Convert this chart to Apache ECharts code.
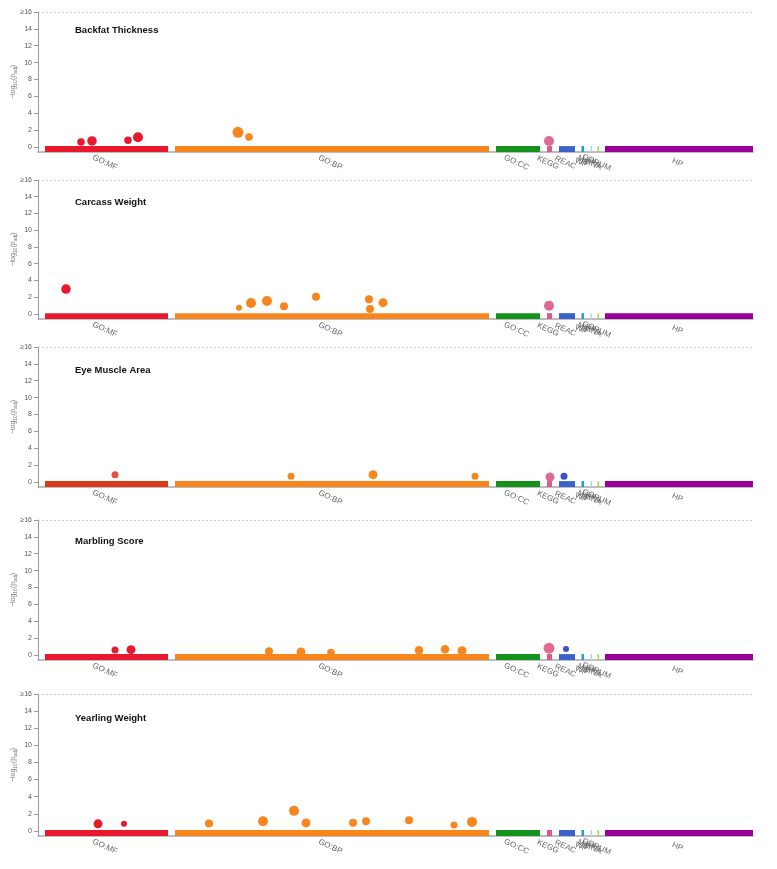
<!DOCTYPE html>
<html>
<head>
<meta charset="utf-8">
<script src="https://cdn.jsdelivr.net/npm/echarts@6/dist/echarts.min.js"></script>
<style>
html,body{margin:0;padding:0;background:#fff;}
#chart{width:777px;height:869px;}
</style>
</head>
<body>
<div id="chart"></div>
<script>
// ---- data ----
const panelTitles = ['Backfat Thickness', 'Carcass Weight', 'Eye Muscle Area', 'Marbling Score', 'Yearling Weight'];
const sourceNames = ['GO:MF', 'GO:BP', 'GO:CC', 'KEGG', 'REAC', 'WP', 'TF', 'MIRNA', 'HPA', 'CORUM', 'HP'];
const sourceStart = [7, 137, 458, 509, 521, 543.5, 548, 552.5, 556, 559.5, 567];
const sourceEnd   = [130, 451, 502, 514, 537, 546, 548, 554, 556, 561, 715];
const sourceLabelPos = [68.5, 294, 480, 511.5, 529, 544.8, 548, 553.2, 556.5, 560.2, 641];
const yTicks = [0, 2, 4, 6, 8, 10, 12, 14, 16];

// points: [position, -log10(p_adj), term size]
const backfatMF = [[43, 0.59, 7.5], [54, 0.71, 9.5], [90, 0.79, 7.5], [100, 1.15, 10]];
const backfatBP = [[200, 1.74, 11], [211, 1.18, 7.5]];
const backfatKEGG = [[511, 0.71, 10]];

const carcassMF = [[28, 2.98, 9.5]];
const carcassBP = [[201, 0.75, 6], [213, 1.31, 10], [229, 1.55, 10], [246, 0.92, 8], [278, 2.07, 8], [331, 1.75, 8], [332, 0.6, 8], [345, 1.35, 9]];
const carcassKEGG = [[511, 0.99, 10]];

const eyeMF = [[77, 0.86, 7]];
const eyeBP = [[253, 0.67, 7], [335, 0.86, 9], [437, 0.67, 7]];
const eyeKEGG = [[512, 0.59, 9]];
const eyeREAC = [[526, 0.67, 7]];

const marblingMF = [[77, 0.59, 7], [93, 0.63, 9]];
const marblingBP = [[231, 0.44, 8], [263, 0.36, 9], [293, 0.28, 7.5], [381, 0.55, 8.5], [407, 0.67, 8.5], [424, 0.51, 9]];
const marblingKEGG = [[511, 0.8, 11]];
const marblingREAC = [[528, 0.7, 6]];

const yearlingMF = [[60, 0.82, 9], [86, 0.82, 6]];
const yearlingBP = [[171, 0.85, 8], [225, 1.13, 10], [256, 2.34, 10], [268, 0.93, 9], [315, 0.96, 8], [328, 1.13, 8], [371, 1.25, 8], [416, 0.7, 7], [434, 1.05, 10]];

const panelPoints = [
  {MF: backfatMF, BP: backfatBP, KEGG: backfatKEGG, REAC: []},
  {MF: carcassMF, BP: carcassBP, KEGG: carcassKEGG, REAC: []},
  {MF: eyeMF, BP: eyeBP, KEGG: eyeKEGG, REAC: eyeREAC},
  {MF: marblingMF, BP: marblingBP, KEGG: marblingKEGG, REAC: marblingREAC},
  {MF: yearlingMF, BP: yearlingBP, KEGG: [], REAC: []}
];

// ---- styles / layout ----
const FONT = '"Liberation Sans", Arial, sans-serif';
const sourceColors = ['#e8192c', '#f7861f', '#14921b', '#dd5a87', '#3a62c8', '#1fa0d0', '#ffffff', '#a8dfe6', '#ffffff', '#a9d25e', '#990099'];
const pointColors = {MF: '#e8192c', BP: '#f7861f', KEGG: '#e06a92', REAC: '#3f4fc8'};
const panelMFColor = ['#e8192c', '#e8192c', '#d8391a', '#e8192c', '#e8192c'];
const panelMFPoint = ['#e8192c', '#e8192c', '#e5533a', '#e8192c', '#e8192c'];
const gridTops = [12, 180, 347, 520, 694];
const gridHeights = [140, 139, 140, 140, 142];
const titleTops = [25, 197, 365, 536, 713];

const grids = [], xAxes = [], yAxes = [], series = [], titles = [];

for (let i = 0; i < 5; i++) {
  grids.push({left: 38, right: 24, top: gridTops[i], height: gridHeights[i], containLabel: false, outerBoundsMode: 'none'});
  titles.push({
    text: panelTitles[i], left: 75, top: titleTops[i], padding: 0,
    textStyle: {fontFamily: FONT, fontSize: 9.5, fontWeight: 'bold', color: '#111'}
  });
  xAxes.push({
    type: 'value', gridIndex: i, min: 0, max: 715,
    splitLine: {show: false},
    axisLine: {show: true, onZero: false, lineStyle: {color: '#a8a8a8', width: 1.5}},
    axisTick: {show: false},
    axisLabel: {
      customValues: sourceLabelPos,
      rotate: -24, align: 'center', verticalAlign: 'top', margin: 7,
      fontFamily: FONT, fontSize: 8, color: '#666',
      formatter: function (v) {
        const k = sourceLabelPos.indexOf(v);
        return k >= 0 ? sourceNames[k] : '';
      }
    }
  });
  yAxes.push({
    type: 'value', gridIndex: i, min: -0.6, max: 16,
    name: '−log{s|10}(p{s|adj})',
    nameLocation: 'middle', nameRotate: 90, nameGap: 20, nameMoveOverlap: false,
    nameTextStyle: {fontFamily: FONT, fontSize: 7, color: '#777', rich: {s: {fontSize: 5, color: '#777', padding: [4, 0, 0, 0]}}},
    splitLine: {show: false},
    axisLine: {show: true, lineStyle: {color: '#999', width: 1}},
    axisTick: {show: true, customValues: yTicks, length: 4, lineStyle: {color: '#999'}},
    axisLabel: {
      customValues: yTicks, margin: 6,
      fontFamily: FONT, fontSize: 7, color: '#555',
      formatter: function (v) { return v === 16 ? '≥16' : String(v); }
    }
  });

  // source bars
  const barData = sourceNames.map((n, k) => [sourceStart[k], sourceEnd[k], k]);
  const mfCol = panelMFColor[i];
  series.push({
    type: 'custom', xAxisIndex: i, yAxisIndex: i, silent: true,
    encode: {x: [0, 1]},
    data: barData,
    renderItem: function (params, api) {
      const s = api.value(0), e = api.value(1), k = api.value(2);
      const p0 = api.coord([s, 0.1]);
      const p1 = api.coord([e, -0.6]);
      const w = p1[0] - p0[0];
      if (w <= 0) return null;
      return {
        type: 'rect',
        shape: {x: p0[0], y: p0[1], width: w, height: p1[1] - p0[1]},
        style: {fill: k === 0 ? mfCol : sourceColors[k]}
      };
    },
    z: 2
  });

  // points
  const pts = panelPoints[i];
  ['MF', 'BP', 'KEGG', 'REAC'].forEach(function (key, idx) {
    const d = pts[key];
    const col = key === 'MF' ? panelMFPoint[i] : pointColors[key];
    const s = {
      type: 'scatter', xAxisIndex: i, yAxisIndex: i, silent: true,
      data: d,
      symbolSize: function (v) { return v[2]; },
      itemStyle: {color: col, opacity: 1},
      z: 3
    };
    if (idx === 0) {
      s.markLine = {
        silent: true, symbol: 'none', label: {show: false},
        lineStyle: {color: '#c8c8c8', type: [2, 2], width: 1},
        data: [{yAxis: 16}]
      };
    }
    series.push(s);
  });
}

const chart = echarts.init(document.getElementById('chart'), null, {renderer: 'canvas'});
chart.setOption({
  animation: false,
  backgroundColor: '#ffffff',
  textStyle: {fontFamily: FONT},
  title: titles,
  grid: grids,
  xAxis: xAxes,
  yAxis: yAxes,
  series: series
});
</script>
</body>
</html>
